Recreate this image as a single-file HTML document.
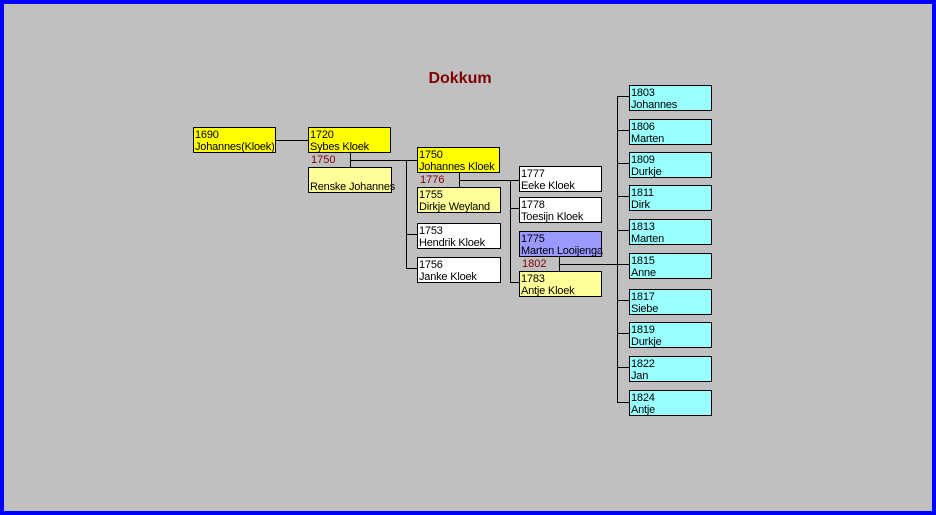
<!DOCTYPE html>
<html><head><style>
html,body{margin:0;padding:0;}
body{width:936px;height:515px;position:relative;background:#c0c0c0;overflow:hidden;font-family:"Liberation Sans",Arial,sans-serif;}
.frame{position:absolute;left:0;top:0;width:928px;height:507px;border:4px solid #0000ff;}
.b{position:absolute;box-sizing:border-box;border:1px solid #000;font-size:11px;line-height:12px;padding:1px 0 0 1px;letter-spacing:-0.2px;white-space:nowrap;overflow:visible;color:#000;}
.y{background:#ffff00}.ly{background:#ffff99}.w{background:#fff}.p{background:#9999ff}.c{background:#99ffff}
.h{position:absolute;height:1px;background:#000}
.v{position:absolute;width:1px;background:#000}
.l{position:absolute;font-size:11px;color:#800000;line-height:12px}
.t{position:absolute;left:0;width:920px;top:70px;text-align:center;font-size:16px;font-weight:bold;color:#800000}
</style></head><body>
<div class="frame"></div>
<div class="t">Dokkum</div>

<div class="b y" style="left:193px;top:127px;width:83px;height:26px">1690<br>Johannes(Kloek)</div>
<div class="h" style="left:276px;top:140px;width:32px"></div>
<div class="b y" style="left:308px;top:127px;width:83px;height:26px">1720<br>Sybes Kloek</div>
<div class="l" style="left:311px;top:154px">1750</div>
<div class="v" style="left:350px;top:153px;height:14px"></div>
<div class="b ly" style="left:308px;top:167px;width:84px;height:26px"><br>Renske Johannes</div>
<div class="h" style="left:350px;top:160px;width:67px"></div>
<div class="v" style="left:406px;top:160px;height:108px"></div>
<div class="h" style="left:406px;top:234px;width:11px"></div>
<div class="h" style="left:406px;top:268px;width:11px"></div>

<div class="b y" style="left:417px;top:147px;width:83px;height:26px">1750<br>Johannes Kloek</div>
<div class="l" style="left:420px;top:174px">1776</div>
<div class="v" style="left:459px;top:173px;height:14px"></div>
<div class="b ly" style="left:417px;top:187px;width:84px;height:26px">1755<br>Dirkje Weyland</div>
<div class="b w" style="left:417px;top:223px;width:84px;height:26px">1753<br>Hendrik Kloek</div>
<div class="b w" style="left:417px;top:257px;width:84px;height:26px">1756<br>Janke Kloek</div>

<div class="h" style="left:459px;top:180px;width:60px"></div>
<div class="v" style="left:510px;top:180px;height:103px"></div>
<div class="h" style="left:510px;top:208px;width:9px"></div>
<div class="h" style="left:510px;top:282px;width:9px"></div>
<div class="b w" style="left:519px;top:166px;width:83px;height:26px">1777<br>Eeke Kloek</div>
<div class="b w" style="left:519px;top:197px;width:83px;height:26px">1778<br>Toesijn Kloek</div>
<div class="b p" style="left:519px;top:231px;width:83px;height:26px">1775<br>Marten Looijenga</div>
<div class="l" style="left:522px;top:258px">1802</div>
<div class="v" style="left:559px;top:257px;height:14px"></div>
<div class="b ly" style="left:519px;top:271px;width:83px;height:26px">1783<br>Antje Kloek</div>

<div class="h" style="left:559px;top:264px;width:70px"></div>
<div class="v" style="left:617px;top:96px;height:307px"></div>
<div class="h" style="left:617px;top:96px;width:12px"></div>
<div class="h" style="left:617px;top:130px;width:12px"></div>
<div class="h" style="left:617px;top:163px;width:12px"></div>
<div class="h" style="left:617px;top:196px;width:12px"></div>
<div class="h" style="left:617px;top:230px;width:12px"></div>
<div class="h" style="left:617px;top:300px;width:12px"></div>
<div class="h" style="left:617px;top:333px;width:12px"></div>
<div class="h" style="left:617px;top:367px;width:12px"></div>
<div class="h" style="left:617px;top:402px;width:12px"></div>

<div class="b c" style="left:629px;top:85px;width:83px;height:26px">1803<br>Johannes</div>
<div class="b c" style="left:629px;top:119px;width:83px;height:26px">1806<br>Marten</div>
<div class="b c" style="left:629px;top:152px;width:83px;height:26px">1809<br>Durkje</div>
<div class="b c" style="left:629px;top:185px;width:83px;height:26px">1811<br>Dirk</div>
<div class="b c" style="left:629px;top:219px;width:83px;height:26px">1813<br>Marten</div>
<div class="b c" style="left:629px;top:253px;width:83px;height:26px">1815<br>Anne</div>
<div class="b c" style="left:629px;top:289px;width:83px;height:26px">1817<br>Siebe</div>
<div class="b c" style="left:629px;top:322px;width:83px;height:26px">1819<br>Durkje</div>
<div class="b c" style="left:629px;top:356px;width:83px;height:26px">1822<br>Jan</div>
<div class="b c" style="left:629px;top:390px;width:83px;height:26px">1824<br>Antje</div>
</body></html>
